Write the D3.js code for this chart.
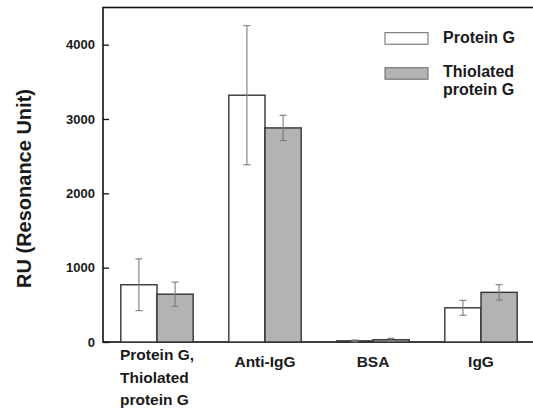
<!DOCTYPE html>
<html>
<head>
<meta charset="utf-8">
<script src="https://cdn.jsdelivr.net/npm/d3@7"></script>
<style>
  body { margin: 0; background: #fff; }
  svg { display: block; }
  text { font-family: "Liberation Sans", Arial, sans-serif; font-weight: bold; fill: #1a1a1a; }
</style>
</head>
<body>
<svg width="533" height="409"></svg>
<script>
var categories = [["Protein G,", "Thiolated", "protein G"], ["Anti-IgG"], ["BSA"], ["IgG"]];
var seriesNames = ["Protein G", "Thiolated protein G"];
var proteinG = [770, 3320, 15, 460];
var proteinGErr = [348, 935, 12, 100];
var thiolated = [643, 2880, 30, 668];
var thiolatedErr = [163, 170, 20, 103];
var yTicks = [0, 1000, 2000, 3000, 4000];

var svg = d3.select('svg');
var plotL = 103, plotT = 7.5, plotR = 535, plotB = 342;

var y = d3.scaleLinear()
  .domain([0, 4500])
  .range([plotB, plotT]);

var x0 = d3.scaleBand()
  .domain(d3.range(categories.length))
  .range([plotL, plotR])
  .padding(0);

var x1 = d3.scaleBand()
  .domain([0, 1])
  .range([x0.step() * 0.165, x0.step() * 0.835])
  .padding(0);

var fills = ['#ffffff', '#b3b3b3'];
var values = [proteinG, thiolated];
var errs = [proteinGErr, thiolatedErr];

var rows = [];
categories.forEach(function (c, i) {
  [0, 1].forEach(function (s) {
    rows.push({ cat: i, s: s, v: values[s][i], e: errs[s][i] });
  });
});

// frame: top, left and bottom (right side runs off the picture)
svg.append('rect')
  .attr('x', plotL).attr('y', y(4500))
  .attr('width', 600).attr('height', y(0) - y(4500))
  .attr('fill', 'none')
  .attr('stroke', '#111')
  .attr('stroke-width', 1.6);

// bars
var g = svg.append('g');
g.selectAll('rect')
  .data(rows)
  .enter()
  .append('rect')
  .attr('x', function (d) { return x0(d.cat) + x1(d.s); })
  .attr('y', function (d) { return y(d.v); })
  .attr('width', x1.bandwidth())
  .attr('height', function (d) { return y(0) - y(d.v); })
  .attr('fill', function (d) { return fills[d.s]; })
  .attr('stroke', '#333')
  .attr('stroke-width', 1.4);

// error bars
var eb = svg.append('g')
  .attr('stroke', '#7a7a7a')
  .attr('stroke-width', 1.1)
  .attr('fill', 'none');
rows.forEach(function (d) {
  var cx = x0(d.cat) + x1(d.s) + x1.bandwidth() / 2;
  var lo = Math.max(0, d.v - d.e), hi = d.v + d.e;
  eb.append('line').attr('x1', cx).attr('x2', cx).attr('y1', y(lo)).attr('y2', y(hi));
  eb.append('line').attr('x1', cx - 3.5).attr('x2', cx + 3.5).attr('y1', y(hi)).attr('y2', y(hi));
  if (d.v - d.e > 0) {
    eb.append('line').attr('x1', cx - 3.5).attr('x2', cx + 3.5).attr('y1', y(lo)).attr('y2', y(lo));
  }
});

// y axis (ticks inward)
var yAxis = d3.axisLeft(y)
  .tickValues(yTicks)
  .tickFormat(d3.format('d'))
  .tickSizeInner(-6)
  .tickSizeOuter(0)
  .tickPadding(8);
var ya = svg.append('g')
  .attr('transform', 'translate(' + plotL + ',0)')
  .call(yAxis);
ya.select('.domain').remove();
ya.selectAll('line').attr('stroke', '#111').attr('stroke-width', 1.3);
ya.selectAll('text')
  .attr('font-family', '"Liberation Sans", Arial, sans-serif')
  .attr('font-weight', 'bold')
  .attr('font-size', 13)
  .attr('fill', '#1a1a1a');

// category labels
categories.forEach(function (lines, i) {
  var cx = x0(i) + x0.bandwidth() / 2;
  var t = svg.append('text')
    .attr('font-size', 15.5)
    .attr('y', lines.length > 1 ? 360 : 366.5);
  lines.forEach(function (l, k) {
    t.append('tspan').attr('dy', k === 0 ? 0 : 22.5).text(l);
  });
  if (lines.length > 1) {
    var w = t.select('tspan').node().getComputedTextLength();
    t.selectAll('tspan').attr('x', cx - w / 2);
  } else {
    t.attr('text-anchor', 'middle').select('tspan').attr('x', cx);
  }
});

// y label
svg.append('text')
  .attr('transform', 'translate(31,188.5) rotate(-90)')
  .attr('text-anchor', 'middle')
  .attr('font-size', 20)
  .text('RU (Resonance Unit)');

// legend
var legendLines = [["Protein G"], ["Thiolated", "protein G"]];
var lg = svg.append('g');
legendLines.forEach(function (lines, i) {
  var yy = i === 0 ? 32.7 : 67.7;
  lg.append('rect')
    .attr('x', 385).attr('y', yy)
    .attr('width', 43).attr('height', 11.5)
    .attr('fill', fills[i])
    .attr('stroke', '#666')
    .attr('stroke-width', 1);
  var t = lg.append('text')
    .attr('font-size', 16)
    .attr('y', i === 0 ? 42.5 : 76.5);
  lines.forEach(function (l, k) {
    t.append('tspan').attr('x', 443).attr('dy', k === 0 ? 0 : 18).text(l);
  });
});
</script>
</body>
</html>
